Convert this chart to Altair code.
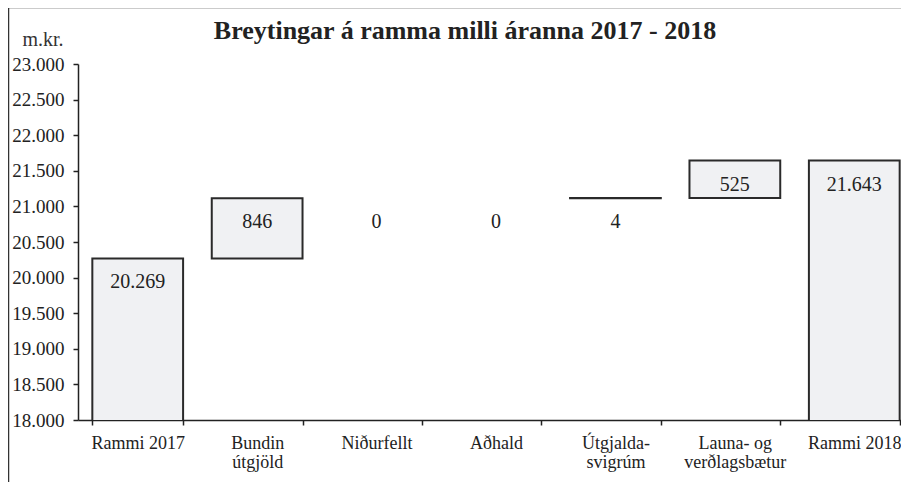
import altair as alt
import pandas as pd

# ---- data ----
categories = ["Rammi 2017", "Bundin\nútgjöld", "Niðurfellt", "Aðhald",
              "Útgjalda-\nsvigrúm", "Launa- og\nverðlagsbætur", "Rammi 2018"]
values = [20269, 846, 0, 0, 4, 525, 21643]
kinds = ["total", "change", "change", "change", "change", "change", "total"]
y_ticks = [18000, 18500, 19000, 19500, 20000, 20500, 21000, 21500, 22000, 22500, 23000]
title_text = "Breytingar á ramma milli áranna 2017 - 2018"
unit_text = "m.kr."

# waterfall start/end from the values
starts, ends = [], []
running = 0
for v, k in zip(values, kinds):
    if k == "total":
        starts.append(0)
        ends.append(v)
        running = v
    else:
        starts.append(running)
        running += v
        ends.append(running)

df = pd.DataFrame({
    "cat": categories,
    "value": values,
    "start": starts,
    "end": ends,
    "top": [max(s, e) for s, e in zip(starts, ends)],
})

FONT = "Liberation Serif, Times New Roman, serif"
INK = "#222222"

x_axis = alt.Axis(labelAngle=0, labelExpr="split(datum.label, '\\n')",
                  tickBand="extent", tickSize=5, tickColor="#222", tickWidth=1.5,
                  domainColor="#222", domainWidth=1.5, labelFontSize=18,
                  labelColor=INK, labelPadding=9, labelLineHeight=19,
                  labelBaseline="top", labelFont=FONT, labelOverlap=False)
x_scale = alt.Scale(range=[0, 836], paddingInner=0.24, paddingOuter=0.12)

y_axis = alt.Axis(values=y_ticks, format=",d", grid=False,
                  tickSize=5, tickColor="#222", tickWidth=1.5,
                  domainColor="#222", domainWidth=1.5, labelFontSize=19,
                  labelColor=INK, labelPadding=9, labelFont=FONT,
                  labelOverlap=False,
                  titleAngle=0, titleX=-56, titleY=-25, titleAlign="left",
                  titleBaseline="middle", titleFontSize=20,
                  titleFontWeight="normal", titleColor="#333",
                  titleFont=FONT)
y_scale = alt.Scale(domain=[18000, 23000], nice=False, zero=False)

bars = alt.Chart(df).transform_filter("datum.value != 0").mark_bar(
    fill="#f0f1f3", stroke="#2a2a2a", strokeWidth=2, clip=True
).encode(
    x=alt.X("cat:N", sort=categories, title=None, scale=x_scale, axis=x_axis),
    y=alt.Y("start:Q", scale=y_scale, title=unit_text, axis=y_axis),
    y2="end:Q",
)

labels = alt.Chart(df).mark_text(
    baseline="middle", align="center", dy=24, fontSize=20, font=FONT, color=INK
).encode(
    x=alt.X("cat:N", sort=categories, title=None, scale=x_scale, axis=x_axis),
    y=alt.Y("top:Q", scale=y_scale, title=unit_text, axis=y_axis),
    text=alt.Text("value:Q", format=",d"),
)

one = pd.DataFrame({"t": [title_text]})
title = alt.Chart(one).mark_text(
    fontSize=26, fontWeight="bold", font=FONT, color=INK,
    align="center", baseline="alphabetic"
).encode(x=alt.value(387), y=alt.value(-25), text="t:N")

left_edge = alt.Chart(one).mark_rule(stroke="#333", strokeWidth=1.5).encode(
    x=alt.value(-69.5), y=alt.value(-56), y2=alt.value(420))
top_edge = alt.Chart(one).mark_rule(stroke="#333", strokeWidth=1.5).encode(
    x=alt.value(-70), x2=alt.value(830), y=alt.value(-56.5))

chart = alt.layer(left_edge, top_edge, bars, labels, title).properties(
    width=823, height=356,
    autosize=alt.AutoSizeParams(type="none"),
    padding={"left": 70, "top": 56, "right": 0, "bottom": 62},
).configure(
    locale={"number": {"decimal": ",", "thousands": ".", "grouping": [3],
                       "currency": ["", " kr."]}},
    font=FONT,
).configure_view(stroke=None)

chart.save("out.html", embed_options={"renderer": "svg", "actions": False})
